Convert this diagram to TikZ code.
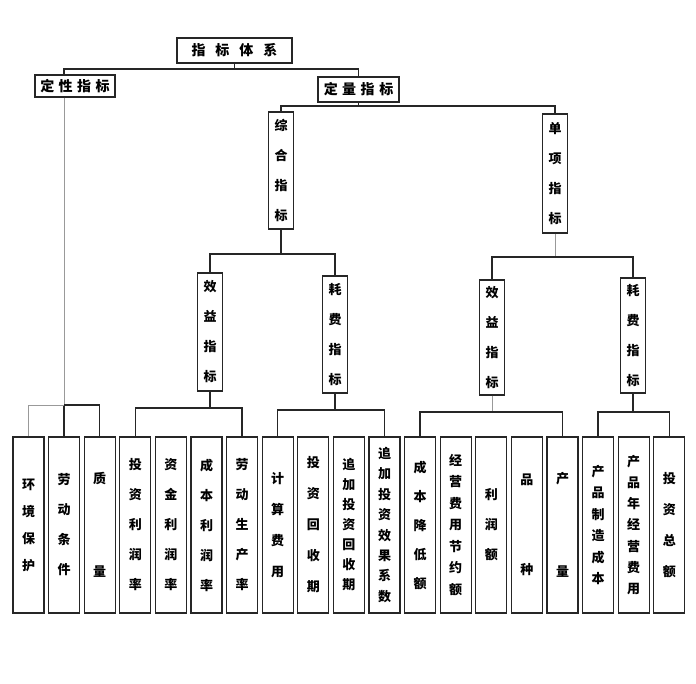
\documentclass[tikz,border=0pt]{standalone}
\usepackage{fontspec}
\newfontfamily\cjk{Noto Sans CJK SC}
\newcommand\lfont[1]{\cjk\bfseries\fontsize{13}{#1}\selectfont}
\begin{document}
\begin{tikzpicture}[x=1pt,y=-1pt,
  every node/.style={draw=black!85,line width=1.3pt,inner sep=0pt,align=center,fill=white},
  leaf/.style={minimum width=31pt,minimum height=176pt},
  mid/.style={minimum width=25pt,font=\lfont{30}},
  topbox/.style={minimum height=25pt,font=\cjk\bfseries\fontsize{14}{14}\selectfont},
  conn/.style={line width=1.3pt,draw=black!85},
  faint/.style={line width=1pt,draw=black!40}]
\useasboundingbox[fill=white] (0,0) rectangle (696,684);

% top level
\node[topbox,minimum width=115pt] (root) at (234.5,50.5) {指\hspace{10pt}标\hspace{10pt}体\hspace{10pt}系};
\node[topbox,minimum width=80pt,minimum height=22pt] (qual) at (75,86) {定\hspace{4.5pt}性\hspace{4.5pt}指\hspace{4.5pt}标};
\node[topbox,minimum width=81pt] (quan) at (358.5,89.5) {定\hspace{4.5pt}量\hspace{4.5pt}指\hspace{4.5pt}标};

% middle level
\node[mid,minimum height=117pt] (zh) at (281,170.5) {综\\合\\指\\标};
\node[mid,minimum height=119pt] (dx) at (555,173.5) {单\\项\\指\\标};
\node[mid,minimum height=118pt] (xy1) at (210,332) {效\\益\\指\\标};
\node[mid,minimum height=117pt] (hf1) at (335,334.5) {耗\\费\\指\\标};
\node[mid,minimum height=115pt] (xy2) at (492,337.5) {效\\益\\指\\标};
\node[mid,minimum height=115pt] (hf2) at (633,335.5) {耗\\费\\指\\标};

% leaves
\node[leaf,font=\lfont{27}] (l1) at (28.5,525) {环\\境\\保\\护};
\node[leaf,font=\lfont{30}] (l2) at (64.1,525) {劳\\动\\条\\件};
\node[leaf,font=\lfont{93}] (l3) at (99.7,525) {质\\量};
\node[leaf,font=\lfont{30}] (l4) at (135.3,525) {投\\资\\利\\润\\率};
\node[leaf,font=\lfont{30}] (l5) at (170.9,525) {资\\金\\利\\润\\率};
\node[leaf,font=\lfont{30}] (l6) at (206.5,525) {成\\本\\利\\润\\率};
\node[leaf,font=\lfont{30}] (l7) at (242.1,525) {劳\\动\\生\\产\\率};
\node[leaf,font=\lfont{31}] (l8) at (277.7,525) {计\\算\\费\\用};
\node[leaf,font=\lfont{31}] (l9) at (313.3,525) {投\\资\\回\\收\\期};
\node[leaf,font=\lfont{20}] (l10) at (348.9,525) {追\\加\\投\\资\\回\\收\\期};
\node[leaf,font=\lfont{20.4}] (l11) at (384.5,525) {追\\加\\投\\资\\效\\果\\系\\数};
\node[leaf,font=\lfont{29}] (l12) at (420.1,525) {成\\本\\降\\低\\额};
\node[leaf,font=\lfont{21.5}] (l13) at (455.7,525) {经\\营\\费\\用\\节\\约\\额};
\node[leaf,font=\lfont{30}] (l14) at (491.3,525) {利\\润\\额};
\node[leaf,font=\lfont{90}] (l15) at (526.9,525) {品\\种};
\node[leaf,font=\lfont{93}] (l16) at (562.5,525) {产\\量};
\node[leaf,font=\lfont{21.4}] (l17) at (598.1,525) {产\\品\\制\\造\\成\\本};
\node[leaf,font=\lfont{21.3}] (l18) at (633.7,525) {产\\品\\年\\经\\营\\费\\用};
\node[leaf,font=\lfont{31}] (l19) at (669.3,525) {投\\资\\总\\额};

% bus heights
\coordinate (b1) at (0,69);
\coordinate (b2) at (0,106);
\coordinate (b3) at (0,254);
\coordinate (b4) at (0,257);
\coordinate (b5) at (0,405);
\coordinate (b6) at (0,408);
\coordinate (b7) at (0,410);
\coordinate (b8) at (0,412);

% connectors
\draw[conn] (root.south) -- (root.south |- b1);
\draw[conn] (qual.north -| l2) |- (quan.north |- b1) -- (quan.north);

\draw[conn] (quan.south) -- (quan.south |- b2);
\draw[conn] (zh.north) |- (dx.north |- b2) -- (dx.north);

\draw[conn] (zh.south) -- (zh.south |- b3);
\draw[conn] (xy1.north) |- (hf1.north |- b3) -- (hf1.north);

\draw[faint] (dx.south) -- (dx.south |- b4);
\draw[conn] (xy2.north) |- (hf2.north |- b4) -- (hf2.north);

\draw[faint] (qual.south -| l2) -- (l2.north |- b5);
\draw[conn] (l2.north |- b5) -- (l2.north);
\draw[faint] (l1.north) |- (l2.north |- b5);
\draw[conn] (l2.north |- b5) -| (l3.north);

\draw[conn] (xy1.south) -- (xy1.south |- b6);
\draw[conn] (l4.north) |- (l7.north |- b6) -- (l7.north);

\draw[conn] (hf1.south) -- (hf1.south |- b7);
\draw[conn] (l8.north) |- (l11.north |- b7) -- (l11.north);

\draw[faint] (xy2.south) -- (xy2.south |- b8);
\draw[conn] (l12.north) |- (l16.north |- b8) -- (l16.north);

\draw[conn] (hf2.south) -- (hf2.south |- b8);
\draw[conn] (l17.north) |- (l19.north |- b8) -- (l19.north);
\end{tikzpicture}
\end{document}
